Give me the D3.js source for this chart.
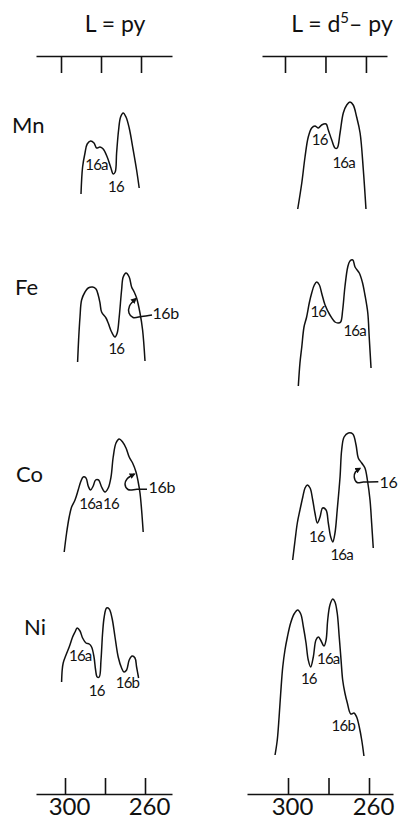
<!DOCTYPE html>
<html>
<head>
<meta charset="utf-8">
<script src="https://cdn.jsdelivr.net/npm/d3@7"></script>
<style>
  html, body { margin: 0; padding: 0; background: #fff; }
  svg { display: block; }
  text { font-family: Lato, "Open Sans", sans-serif; fill: #111; }
</style>
</head>
<body>
<svg id="chart" width="398" height="821"></svg>
<script>
// ---- data: absorption spectra, wavelength (nm) vs. relative absorbance ----
const metals = ["Mn", "Fe", "Co", "Ni"];
const panelTitles = ["L = py", "L = d5-py"];
const axisTicks = [300, 280, 260];
const axisTickLabels = ["300", "", "260"];

// L = py
const mnPy = [[292,0.21],[291.2,0.48],[290,0.62],[288.9,0.71],[287.2,0.74],[285.5,0.72],[284.2,0.67],[282.5,0.68],[280.9,0.66],[278.9,0.58],[277.2,0.48],[275.9,0.41],[274.9,0.43],[274.2,0.62],[273.2,0.85],[272.2,0.98],[270.9,1.02],[269.5,0.98],[267.9,0.87],[265.9,0.65],[264.2,0.45],[262.9,0.27]];
const fePy = [[293.7,0.28],[293.2,0.50],[292.5,0.73],[291.7,0.90],[290,0.98],[288.4,1.02],[286.2,1.03],[284.5,1.01],[283.4,0.95],[282.5,0.87],[281.7,0.78],[279.5,0.72],[278.4,0.67],[276.7,0.58],[275,0.53],[273.9,0.57],[272.9,0.73],[271.7,1.00],[270.9,1.13],[269.5,1.17],[267.9,1.13],[266.7,1.03],[265.4,0.98],[264.2,0.92],[262.5,0.77],[261.2,0.60],[260,0.29]];
const coPy = [[300.4,0.13],[299.2,0.32],[297.9,0.48],[296.7,0.58],[295,0.65],[293.4,0.75],[292.2,0.83],[290.9,0.88],[289.5,0.87],[288.4,0.79],[287.2,0.75],[285.9,0.79],[284.7,0.85],[283.2,0.85],[281.7,0.78],[280,0.73],[278.4,0.77],[277,0.88],[275.9,1.08],[274.5,1.22],[272.9,1.26],[271.2,1.23],[269.5,1.17],[267.9,1.08],[266.2,1.02],[264.5,0.93],[263.4,0.83],[262.5,0.72],[261.7,0.55],[260.9,0.33]];
const niPy = [[301.7,0.78],[301.4,0.90],[300.9,0.97],[299.5,1.05],[297.9,1.13],[296.2,1.23],[295,1.28],[293.9,1.32],[292.5,1.29],[291.2,1.22],[289.5,1.17],[287.9,1.16],[286.7,1.13],[285.5,1.03],[284.7,0.90],[283.9,0.83],[282.9,0.83],[282,1.00],[281.2,1.27],[280.4,1.43],[279.2,1.52],[277.9,1.51],[276.5,1.42],[275,1.23],[273.4,1.03],[271.7,0.92],[270.5,0.88],[269.2,0.90],[267.9,1.00],[266.4,1.04],[265,1.02],[264.2,0.93],[263.2,0.82]];

// L = d5-py
const mnD5py = [[295.2,0.06],[293.2,0.32],[291.6,0.58],[290.0,0.78],[288.3,0.87],[286.7,0.89],[285.0,0.87],[283.4,0.90],[281.2,0.91],[280.1,0.85],[278.4,0.75],[276.8,0.67],[275.7,0.67],[274.3,0.82],[272.7,1.02],[271.0,1.10],[269.4,1.13],[267.8,1.10],[266.1,0.98],[264.4,0.82],[262.8,0.45],[261.5,0.06]];
const feD5py = [[294.9,0.04],[294.1,0.27],[293.2,0.43],[292.1,0.63],[290.8,0.73],[289.5,0.87],[288.3,0.97],[287.0,1.05],[285.8,1.08],[284.5,1.05],[283.4,0.97],[281.7,0.85],[279.3,0.75],[276.8,0.68],[275.2,0.67],[274.0,0.68],[273.0,0.80],[271.9,1.03],[270.5,1.23],[269.4,1.29],[268.0,1.30],[266.9,1.23],[264.8,1.17],[263.3,1.08],[262.0,0.95],[260.6,0.77],[259.9,0.53],[259.0,0.22]];
const coD5py = [[297.7,0.05],[296.5,0.25],[295.4,0.42],[294.1,0.55],[292.7,0.68],[291.6,0.77],[290.5,0.80],[289.1,0.77],[287.8,0.65],[286.7,0.52],[285.5,0.42],[284.2,0.48],[282.9,0.57],[281.2,0.55],[280.1,0.42],[278.9,0.28],[277.9,0.23],[276.8,0.32],[275.7,0.55],[274.3,0.88],[273.5,1.15],[272.3,1.28],[270.2,1.32],[268.0,1.31],[266.4,1.20],[265.3,1.07],[263.6,1.02],[262.0,0.97],[260.8,0.85],[259.5,0.65],[258.7,0.42],[257.9,0.17]];
const niD5py = [[306.4,0.05],[305.3,0.20],[304.4,0.43],[303.6,0.67],[302.6,0.93],[301.5,1.10],[300.3,1.23],[298.7,1.37],[297.0,1.46],[295.2,1.50],[293.7,1.46],[292.4,1.33],[291.1,1.17],[290.0,1.00],[288.8,0.93],[287.5,1.03],[286.2,1.20],[285.0,1.23],[283.9,1.20],[282.2,1.14],[281.2,1.20],[280.4,1.40],[279.3,1.55],[277.9,1.61],[276.8,1.58],[275.7,1.47],[274.7,1.23],[273.8,1.00],[273.0,0.80],[271.9,0.67],[270.7,0.57],[269.0,0.46],[267.4,0.47],[266.1,0.43],[264.8,0.33],[263.6,0.20],[262.5,0.04]];

// band assignments: [text, wavelength, absorbance]
const mnPyBands = [["16a",284.25,0.50],["16",274.5,0.28]];
const fePyBands = [["16",274.35,0.41]];
const coPyBands = [["16a",287.2,0.617],["16",277.0,0.617]];
const niPyBands = [["16a",292.35,1.045],["16",284.15,0.69],["16b",268.75,0.775]];
const mnD5pyBands = [["16",284.35,0.75],["16a",272.5,0.52]];
const feD5pyBands = [["16",285.0,0.787],["16a",267.1,0.59]];
const coD5pyBands = [["16",285.7,0.28],["16a",273.5,0.105]];
const niD5pyBands = [["16",289.7,0.81],["16a",280.1,1.017],["16b",272.7,0.34]];

// shoulders marked with a hooked arrow: leader text + hook path
const fePyHook = {text: "16b", at: [256.3, 0.77], path: [[256.5,0.75],[261.7,0.735],[266,0.725],[268,0.77],[267.75,0.84],[264.5,0.915]]};
const coPyHook = {text: "16b", at: [258.2, 0.775], path: [[259,0.757],[264,0.757],[268.5,0.755],[270,0.81],[269,0.86],[265.25,0.91]]};
const coD5pyHook = {text: "16", at: [254.8, 0.83], path: [[255.4,0.833],[262.8,0.83],[265.9,0.825],[267.3,0.88],[266.7,0.93],[264.4,0.967]]};

const spectra = {
  "Mn": [mnPy, mnD5py], "Fe": [fePy, feD5py], "Co": [coPy, coD5py], "Ni": [niPy, niD5py]
};
const bands = {
  "Mn": [mnPyBands, mnD5pyBands], "Fe": [fePyBands, feD5pyBands],
  "Co": [coPyBands, coD5pyBands], "Ni": [niPyBands, niD5pyBands]
};
const hooks = {
  "Mn": [null, null], "Fe": [fePyHook, null], "Co": [coPyHook, coD5pyHook], "Ni": [null, null]
};

// ---- layout ----
const svg = d3.select("#chart");
const rowBase = {Mn: 215, Fe: 390, Co: 565, Ni: 760};
const rowLabelPos = {Mn: [12, 133], Fe: [15, 295], Co: [16, 482], Ni: [24, 635]};
const rowHeight = 100;

// wavelength scales (reversed: long wavelength on the left)
const xBottom = [
  d3.scaleLinear().domain([314.5, 246.5]).range([36, 172]),
  d3.scaleLinear().domain([320.25, 248.15]).range([247, 393])
];
const xTop = [
  d3.scaleLinear().domain([312.5, 244.5]).range([36, 172]),
  d3.scaleLinear().domain([311.36, 249.6]).range([262, 387])
];
const titleX = [115, 342];

const defs = svg.append("defs");
defs.append("marker")
  .attr("id", "head")
  .attr("viewBox", "0 0 10 10")
  .attr("refX", 8).attr("refY", 5)
  .attr("markerWidth", 6).attr("markerHeight", 6)
  .attr("markerUnits", "userSpaceOnUse")
  .attr("orient", "auto")
  .append("path").attr("d", "M0,0 L10,5 L0,10 Z").attr("fill", "#111");

// panel titles
svg.append("text").attr("x", titleX[0]).attr("y", 32)
  .attr("text-anchor", "middle").attr("font-size", 23).text("L = py");
const t2 = svg.append("text").attr("x", titleX[1]).attr("y", 32)
  .attr("text-anchor", "middle").attr("font-size", 23);
t2.append("tspan").text("L = d");
t2.append("tspan").attr("dy", -9).attr("font-size", 15).text("5");
t2.append("tspan").attr("dy", 9).text("\u2013 py");

// axes
function styleAxis(g) {
  g.select(".domain").attr("stroke", "#111").attr("stroke-width", 1.6);
  g.selectAll(".tick line").attr("stroke", "#111").attr("stroke-width", 1.6);
}
xTop.forEach(sc => {
  const g = svg.append("g").attr("transform", "translate(0,56)")
    .call(d3.axisBottom(sc).tickValues(axisTicks).tickFormat("").tickSizeInner(17).tickSizeOuter(0));
  styleAxis(g);
});
xBottom.forEach(sc => {
  const g = svg.append("g").attr("transform", "translate(0,794)")
    .call(d3.axisBottom(sc).tickValues(axisTicks)
      .tickFormat((d, i) => axisTickLabels[i]).tickSizeInner(-16).tickSizeOuter(0).tickPadding(2));
  styleAxis(g);
  g.selectAll(".tick text").attr("font-size", 24).attr("font-family", "Lato, sans-serif")
    .attr("fill", "#111").attr("dx", 4).attr("dy", "0.78em");
});

// spectra
metals.forEach(m => {
  const y = d3.scaleLinear().domain([0, 1]).range([rowBase[m], rowBase[m] - rowHeight]);
  svg.append("text").attr("x", rowLabelPos[m][0]).attr("y", rowLabelPos[m][1])
    .attr("font-size", 22).text(m);

  [0, 1].forEach(p => {
    const x = xBottom[p];
    const line = d3.line().x(d => x(d[0])).y(d => y(d[1])).curve(d3.curveCatmullRom.alpha(0.5));
    svg.append("path").attr("d", line(spectra[m][p]))
      .attr("fill", "none").attr("stroke", "#111").attr("stroke-width", 1.5)
      .attr("stroke-linejoin", "round");

    bands[m][p].forEach(b => {
      svg.append("text").attr("x", x(b[1])).attr("y", y(b[2]))
        .attr("text-anchor", "middle").attr("dy", "0.36em")
        .attr("font-size", 15).attr("letter-spacing", -0.8).text(b[0]);
    });

    const h = hooks[m][p];
    if (h) {
      svg.append("path").attr("d", line(h.path))
        .attr("fill", "none").attr("stroke", "#111").attr("stroke-width", 1.5)
        .attr("marker-end", "url(#head)");
      svg.append("text").attr("x", x(h.at[0])).attr("y", y(h.at[1]))
        .attr("dy", "0.36em").attr("font-size", 16).attr("letter-spacing", -0.3).text(h.text);
    }
  });
});
</script>
</body>
</html>
